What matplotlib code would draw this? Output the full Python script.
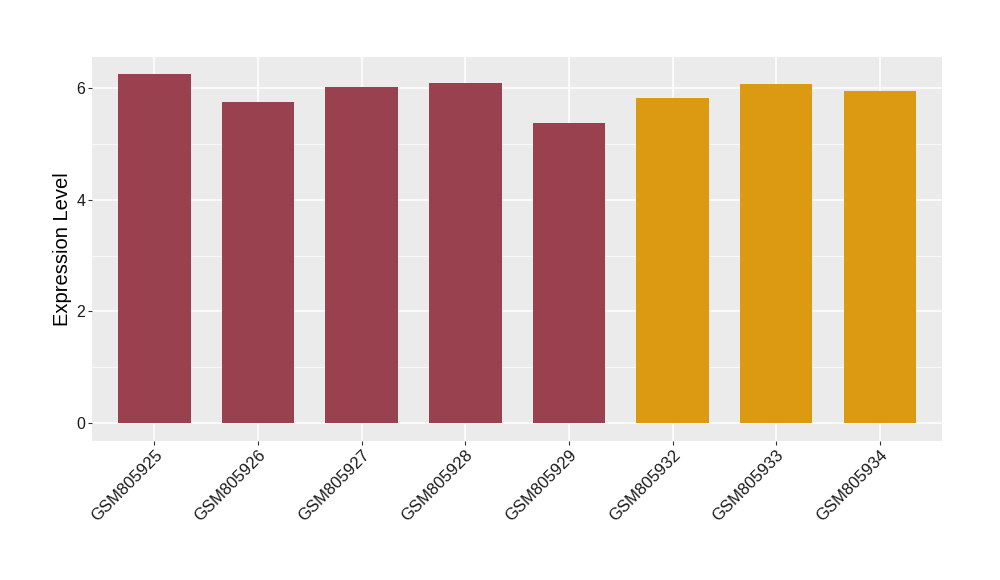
import matplotlib
matplotlib.use("Agg")
import matplotlib.pyplot as plt
from matplotlib.ticker import MultipleLocator

samples = ["GSM805925", "GSM805926", "GSM805927", "GSM805928", "GSM805929",
           "GSM805932", "GSM805933", "GSM805934"]
values = [6.245, 5.744, 6.013, 6.085, 5.369, 5.816, 6.067, 5.941]
groups = ["A", "A", "A", "A", "A", "B", "B", "B"]
group_colors = {"A": "#9A4150", "B": "#DC9A12"}
y_ticks = [0, 2, 4, 6]
y_label = "Expression Level"

plt.rcParams['font.family'] = ['Liberation Sans', 'DejaVu Sans']

fig = plt.figure(figsize=(10, 5.8), dpi=100)
ax = fig.add_axes([0.0923, 0.2402, 0.942 - 0.0923, 0.9022 - 0.2402])
ax.set_facecolor("#EBEBEB")

x = list(range(len(samples)))
ax.bar(x, values, width=0.7, color=[group_colors[g] for g in groups], zorder=3)

ymax = max(values)
ax.set_ylim(-0.05 * ymax, ymax * 1.05)
ax.set_xlim(-0.6, len(samples) - 0.4)

ax.set_yticks(y_ticks)
ax.yaxis.set_minor_locator(MultipleLocator(1))
ax.set_xticks(x)
ax.set_xticklabels(samples, rotation=45, ha="right", rotation_mode="anchor", fontsize=12)
ax.tick_params(axis="y", labelsize=11.5)
ax.tick_params(axis="both", which="major", length=3, color="#333333", labelcolor="#1A1A1A", pad=2)
ax.tick_params(axis="y", which="minor", length=0)

ax.grid(which="major", color="white", linewidth=1.1, zorder=0)
ax.grid(which="minor", axis="y", color="white", linewidth=0.5, zorder=0)
ax.set_axisbelow(True)
for s in ax.spines.values():
    s.set_visible(False)

ax.set_ylabel(y_label, fontsize=14.5, labelpad=3)

fig.savefig("out.png", dpi=100)
